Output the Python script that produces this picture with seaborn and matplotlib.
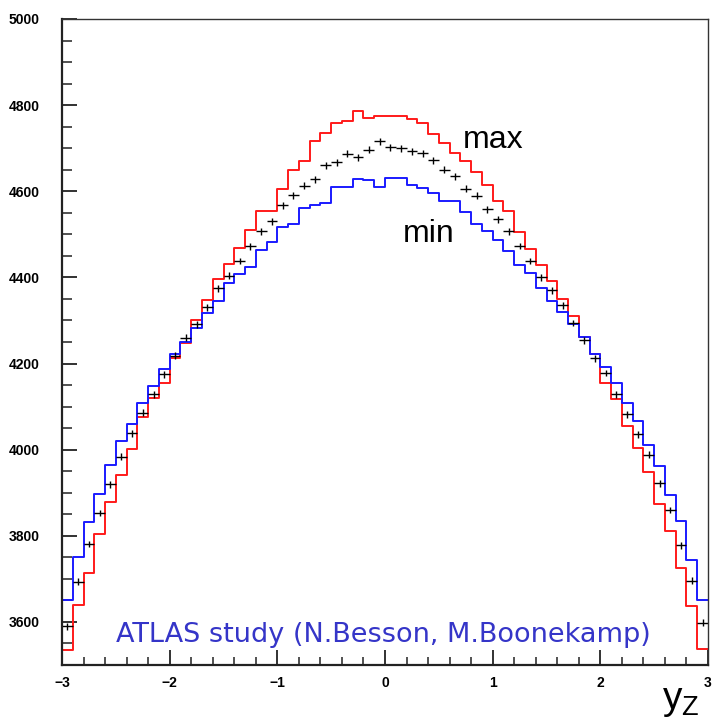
import numpy as np
import pandas as pd
import matplotlib
matplotlib.use("Agg")
import matplotlib.pyplot as plt
import seaborn as sns
from matplotlib.ticker import MultipleLocator

# y_Z bins: 60 bins of width 0.1 from -3 to 3
bin_edges = [round(-3 + 0.1 * i, 2) for i in range(61)]
bin_centers = [round(-2.95 + 0.1 * i, 3) for i in range(60)]

# max variation (red)
max_vals = [3535, 3639, 3713, 3804, 3879, 3942, 4002, 4076, 4120, 4154,
            4213, 4248, 4300, 4347, 4397, 4432, 4469, 4510, 4554, 4554,
            4605, 4650, 4671, 4716, 4735, 4758, 4763, 4787, 4770, 4774,
            4774, 4774, 4768, 4758, 4733, 4712, 4689, 4671, 4644, 4615,
            4578, 4554, 4506, 4465, 4429, 4391, 4350, 4310, 4262, 4221,
            4154, 4117, 4055, 4004, 3949, 3874, 3810, 3725, 3636, 3538]

# min variation (blue)
min_vals = [3650, 3750, 3832, 3898, 3964, 4020, 4060, 4108, 4147, 4187,
            4221, 4250, 4283, 4317, 4345, 4387, 4407, 4424, 4463, 4482,
            4517, 4523, 4561, 4567, 4573, 4609, 4609, 4628, 4626, 4609,
            4630, 4630, 4615, 4608, 4596, 4578, 4578, 4553, 4523, 4507,
            4488, 4462, 4429, 4411, 4376, 4345, 4319, 4292, 4262, 4221,
            4191, 4154, 4108, 4067, 4010, 3963, 3894, 3835, 3744, 3650]

# central values (black points)
central_vals = [3590, 3693, 3781, 3853, 3920, 3984, 4038, 4086, 4129, 4175,
                4218, 4260, 4291, 4331, 4375, 4404, 4438, 4472, 4507, 4530,
                4567, 4591, 4613, 4628, 4660, 4667, 4687, 4679, 4696, 4716,
                4702, 4700, 4693, 4688, 4672, 4650, 4635, 4606, 4590, 4558,
                4535, 4507, 4473, 4438, 4400, 4370, 4335, 4294, 4254, 4212,
                4178, 4129, 4082, 4036, 3988, 3922, 3860, 3778, 3696, 3598]
central_err = 8

y_ticks = [3600, 3800, 4000, 4200, 4400, 4600, 4800, 5000]
x_ticks = [-3, -2, -1, 0, 1, 2, 3]

df = pd.DataFrame({'yz': bin_centers, 'max': max_vals, 'min': min_vals,
                   'central': central_vals})

sns.set_style("white")
plt.rcParams['font.family'] = ['Liberation Sans', 'DejaVu Sans']

fig = plt.figure(figsize=(7.13, 7.2), dpi=100)
ax = fig.add_axes([62 / 713, 1 - 665 / 720, 646 / 713, 646 / 720])

# histograms as step outlines
sns.histplot(data=df, x='yz', weights='max', bins=bin_edges, element='step',
             fill=False, color='#ff1a1a', linewidth=1.4, ax=ax)
sns.histplot(data=df, x='yz', weights='min', bins=bin_edges, element='step',
             fill=False, color='#1a1aff', linewidth=1.4, ax=ax)

ax.errorbar(df['yz'], df['central'], xerr=0.05, yerr=central_err,
            fmt='none', ecolor='black', elinewidth=1.0, capsize=0)

ax.set_xlim(-3, 3)
ax.set_ylim(3500, 5000)
ax.set_xlabel('')
ax.set_ylabel('')

ax.set_xticks(x_ticks)
ax.set_yticks(y_ticks)
ax.xaxis.set_minor_locator(MultipleLocator(0.2))
ax.yaxis.set_minor_locator(MultipleLocator(50))
ax.tick_params(axis='both', which='both', direction='in', color='#222222',
               bottom=True, left=True, top=False, right=False,
               labelcolor='black')
ax.tick_params(axis='y', which='major', length=11, width=1.3, pad=16)
ax.tick_params(axis='y', which='minor', length=7, width=1.1)
ax.tick_params(axis='x', which='major', length=11, width=1.3, pad=8)
ax.tick_params(axis='x', which='minor', length=6, width=1.1)
for lab in ax.get_xticklabels() + ax.get_yticklabels():
    lab.set_fontweight('bold')
    lab.set_fontsize(10)

for side in ['left', 'bottom']:
    ax.spines[side].set_linewidth(1.6)
    ax.spines[side].set_color('#222222')
for side in ['top', 'right']:
    ax.spines[side].set_linewidth(1.0)
    ax.spines[side].set_color('#333333')

ax.text(0.72, 4720, 'max', fontsize=23, color='black', ha='left', va='center')
ax.text(0.17, 4500, 'min', fontsize=23, color='black', ha='left', va='center')
ax.text(-2.5, 3569, 'ATLAS study (N.Besson, M.Boonekamp)', fontsize=19.5,
        color='#3535c8', ha='left', va='center', family=['DejaVu Sans'])

# axis title sits in the bottom-right corner, just left of the last tick label
fig.text(700 / 713, 1 / 720, r'$\mathregular{y_Z}$', fontsize=28,
         color='black', ha='right', va='bottom')

fig.savefig('out.png', dpi=100, facecolor='white')
